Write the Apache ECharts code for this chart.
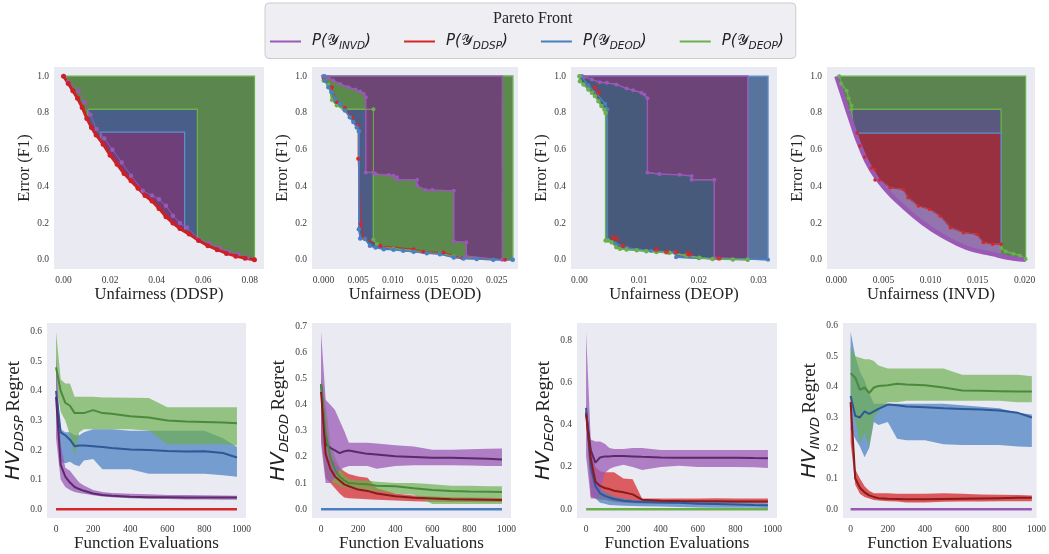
<!DOCTYPE html>
<html>
<head>
<meta charset="utf-8">
<script src="https://cdn.jsdelivr.net/npm/echarts@6/dist/echarts.min.js"></script>
<style>
  html, body { margin: 0; background: #fff; }
  #chart { width: 1049px; height: 554px; }
</style>
</head>
<body>
<div id="chart"></div>
<script>
// ---------- tick labels ----------
const topYTicks = [0, 0.2, 0.4, 0.6, 0.8, 1.0];
const ddspXTicks = [0, 0.02, 0.04, 0.06, 0.08];
const deodXTicks = [0, 0.005, 0.01, 0.015, 0.02, 0.025];
const deopXTicks = [0, 0.01, 0.02, 0.03];
const invdXTicks = [0, 0.005, 0.01, 0.015, 0.02];
const evalTicks = [0, 200, 400, 600, 800, 1000];
const ddspRegretTicks = [0, 0.1, 0.2, 0.3, 0.4, 0.5, 0.6];
const deodRegretTicks = [0, 0.1, 0.2, 0.3, 0.4, 0.5, 0.6, 0.7];
const deopRegretTicks = [0, 0.2, 0.4, 0.6, 0.8];
const invdRegretTicks = [0, 0.1, 0.2, 0.3, 0.4, 0.5, 0.6];

// ---------- Pareto fronts : DDSP ----------
const ddspRedFront = [[0.000,1.0],[0.002,0.96],[0.004,0.92],[0.006,0.88],[0.008,0.83],[0.010,0.77],[0.012,0.72],[0.014,0.68],[0.017,0.63],[0.020,0.57],[0.023,0.52],[0.026,0.47],[0.029,0.43],[0.032,0.39],[0.035,0.35],[0.038,0.32],[0.041,0.28],[0.044,0.235],[0.047,0.2],[0.050,0.17],[0.054,0.14],[0.058,0.105],[0.062,0.077],[0.066,0.055],[0.070,0.035],[0.074,0.02],[0.078,0.008],[0.082,0.0]];
const ddspPurpleFront = [[0.002,0.97],[0.0064,0.92],[0.009,0.86],[0.0115,0.79],[0.0142,0.713],[0.0175,0.66],[0.021,0.6],[0.025,0.53],[0.029,0.458],[0.034,0.376],[0.038,0.35],[0.041,0.33],[0.044,0.295],[0.047,0.24],[0.050,0.2],[0.053,0.176],[0.058,0.113],[0.0626,0.09],[0.067,0.067],[0.071,0.044],[0.075,0.03],[0.079,0.012]];
const ddspGreenArea = [[0.001,1.0],[0.082,1.0],[0.082,0.0],[0.078,0.008],[0.074,0.02],[0.070,0.035],[0.066,0.055],[0.062,0.077],[0.058,0.105],[0.054,0.14],[0.050,0.17],[0.047,0.2],[0.044,0.235],[0.041,0.28],[0.038,0.32],[0.035,0.35],[0.032,0.39],[0.029,0.43],[0.026,0.47],[0.023,0.52],[0.020,0.57],[0.017,0.63],[0.014,0.68],[0.012,0.72],[0.010,0.77],[0.008,0.83],[0.006,0.88],[0.004,0.92],[0.002,0.96]];
const ddspSlateArea = [[0.0105,0.82],[0.0575,0.82],[0.0575,0.11],[0.054,0.14],[0.050,0.17],[0.047,0.2],[0.044,0.235],[0.041,0.28],[0.038,0.32],[0.035,0.35],[0.032,0.39],[0.029,0.43],[0.026,0.47],[0.023,0.52],[0.020,0.57],[0.017,0.63],[0.014,0.68],[0.012,0.72],[0.0105,0.76]];
const ddspPurpleArea = [[0.016,0.695],[0.052,0.695],[0.052,0.16],[0.050,0.17],[0.047,0.2],[0.044,0.235],[0.041,0.28],[0.038,0.32],[0.035,0.35],[0.032,0.39],[0.029,0.43],[0.026,0.47],[0.023,0.52],[0.020,0.57],[0.017,0.63],[0.016,0.65]];

// ---------- Pareto fronts : DEOD ----------
const deodBlueFront = [[0.0,1.0],[0.0002,0.976],[0.0007,0.94],[0.0012,0.913],[0.0017,0.876],[0.0024,0.85],[0.0031,0.813],[0.0038,0.776],[0.0043,0.75],[0.0048,0.72],[0.0051,0.7],[0.0051,0.167],[0.0053,0.116],[0.006,0.113],[0.0067,0.076],[0.0075,0.067],[0.0087,0.058],[0.0101,0.055],[0.0115,0.049],[0.013,0.044],[0.0149,0.036],[0.0168,0.031],[0.0188,0.013],[0.0202,0.007],[0.0221,0.004],[0.0245,0.0],[0.0273,0.0]];
const deodBlueCorners = [[0.0273,1.0]];
const deodGreenFront = [[0.0,0.975],[0.0007,0.955],[0.0012,0.87],[0.0019,0.84],[0.0029,0.82],[0.0072,0.82],[0.0072,0.11],[0.0077,0.085],[0.0101,0.06],[0.013,0.05],[0.0168,0.035],[0.0188,0.02],[0.0221,0.006],[0.0273,0.0]];
const deodGreenCorners = [[0.0273,1.0],[0.0,1.0]];
const deodPurpleFront = [[0.0002,1.0],[0.0007,0.995],[0.0014,0.976],[0.0024,0.958],[0.0036,0.94],[0.0046,0.927],[0.0053,0.916],[0.0058,0.904],[0.0061,0.885],[0.0061,0.476],[0.0072,0.476],[0.0075,0.467],[0.0094,0.462],[0.0101,0.458],[0.0106,0.449],[0.0106,0.436],[0.0135,0.436],[0.0135,0.404],[0.0147,0.38],[0.0157,0.38],[0.0188,0.376],[0.0188,0.1],[0.0206,0.095],[0.0206,0.02],[0.0258,0.0]];
const deodPurpleCorners = [[0.0258,1.0]];
const deodRedFront = [[0.0,0.99],[0.0012,0.94],[0.0019,0.86],[0.0031,0.827],[0.0041,0.776],[0.005,0.73],[0.005,0.55],[0.0054,0.195],[0.0058,0.12],[0.0082,0.076],[0.013,0.058],[0.0144,0.044],[0.0173,0.04],[0.02,0.01],[0.0262,0.0]];

// ---------- Pareto fronts : DEOP ----------
const deopBlueFront = [[0.0003,1.0],[0.0015,0.95],[0.003,0.9],[0.0043,0.85],[0.0047,0.82],[0.0047,0.11],[0.006,0.09],[0.008,0.065],[0.012,0.05],[0.016,0.04],[0.0162,0.014],[0.02,0.008],[0.0282,0.004],[0.0316,0.0]];
const deopBlueCorners = [[0.0316,1.0]];
const deopGreenFront = [[0.0,1.0],[0.0001,0.973],[0.0007,0.955],[0.0015,0.928],[0.0021,0.91],[0.0026,0.892],[0.0032,0.864],[0.0037,0.837],[0.0042,0.819],[0.0044,0.8],[0.0044,0.105],[0.0048,0.105],[0.0054,0.096],[0.0062,0.069],[0.0068,0.06],[0.0079,0.056],[0.0096,0.052],[0.0112,0.047],[0.0129,0.042],[0.0151,0.038],[0.0179,0.024],[0.0201,0.011],[0.0223,0.005],[0.0257,0.002],[0.0282,0.0]];
const deopGreenCorners = [[0.0282,1.0]];
const deopPurpleFront = [[0.0005,1.0],[0.0009,0.996],[0.0021,0.982],[0.0034,0.967],[0.0046,0.964],[0.0062,0.955],[0.0079,0.933],[0.009,0.924],[0.0104,0.91],[0.0109,0.9],[0.0114,0.88],[0.0114,0.476],[0.0134,0.467],[0.0168,0.463],[0.0188,0.457],[0.0188,0.436],[0.0226,0.436],[0.0226,0.01],[0.0282,0.005]];
const deopPurpleCorners = [[0.0282,1.0]];
const deopRedDots = [[0.0026,0.937],[0.0032,0.91],[0.0057,0.12],[0.0062,0.114],[0.0073,0.078],[0.0129,0.056],[0.0146,0.042],[0.0162,0.042],[0.0182,0.033],[0.0185,0.03],[0.0234,0.009]];

// ---------- Pareto fronts : INVD ----------
const invdPurpleFront = [[0.0,1.0],[0.0007,0.89],[0.0016,0.75],[0.0025,0.62],[0.0037,0.49],[0.0053,0.38],[0.0071,0.29],[0.0092,0.2],[0.0113,0.13],[0.0138,0.067],[0.0166,0.031],[0.0188,0.007],[0.0201,0.0]];
const invdGreenArea = [[0.0003,1.0],[0.0201,1.0],[0.0201,0.0],[0.0188,0.007],[0.0166,0.031],[0.0138,0.067],[0.0113,0.13],[0.0092,0.2],[0.0071,0.29],[0.0053,0.38],[0.0037,0.49],[0.0025,0.62],[0.0016,0.75],[0.0007,0.89]];
const invdSlateArea = [[0.0016,0.82],[0.0175,0.82],[0.0175,0.06],[0.0138,0.067],[0.0113,0.13],[0.0092,0.2],[0.0071,0.29],[0.0053,0.38],[0.0037,0.49],[0.0025,0.62],[0.0018,0.72]];
const invdLightArea = [[0.0022,0.69],[0.0175,0.69],[0.0175,0.025],[0.0166,0.031],[0.0138,0.067],[0.0113,0.13],[0.0092,0.2],[0.0071,0.29],[0.0053,0.38],[0.0037,0.49],[0.0025,0.62]];
const invdRedFront = [[0.0022,0.69],[0.0025,0.62],[0.003,0.56],[0.0037,0.5],[0.0041,0.49],[0.0041,0.434],[0.0046,0.434],[0.0057,0.392],[0.0071,0.383],[0.0076,0.338],[0.0087,0.293],[0.0099,0.275],[0.011,0.239],[0.0121,0.175],[0.0135,0.148],[0.0149,0.139],[0.0156,0.094],[0.0166,0.085],[0.0175,0.085]];
const invdRedCorners = [[0.0175,0.69]];
const invdGreenTop = [[0.0003,1.0],[0.0005,0.96],[0.0011,0.92],[0.0013,0.88],[0.0016,0.84],[0.0016,0.82]];
const invdGreenBottom = [[0.0175,0.065],[0.018,0.045],[0.0188,0.033],[0.0195,0.024],[0.0201,0.005]];

// ---------- HV regret (bottom row) ----------
const evalX = [0, 25, 50, 75, 100, 125, 150, 200, 250, 300, 400, 500, 600, 700, 800, 900, 975];
const zeroRegret = [0, 0, 0, 0, 0, 0, 0, 0, 0, 0, 0, 0, 0, 0, 0, 0, 0];

const ddspGreenMean = [0.48,0.40,0.36,0.35,0.325,0.325,0.325,0.335,0.325,0.323,0.314,0.31,0.30,0.297,0.295,0.293,0.291];
const ddspGreenHi = [0.60,0.44,0.425,0.425,0.38,0.38,0.38,0.38,0.378,0.378,0.377,0.376,0.345,0.345,0.345,0.345,0.345];
const ddspGreenLo = [0.42,0.33,0.30,0.25,0.18,0.26,0.27,0.27,0.27,0.27,0.27,0.265,0.22,0.22,0.22,0.22,0.215];
const ddspBlueMean = [0.40,0.26,0.25,0.235,0.213,0.215,0.215,0.213,0.21,0.207,0.202,0.2,0.197,0.195,0.196,0.19,0.175];
const ddspBlueHi = [0.41,0.27,0.26,0.26,0.25,0.25,0.26,0.27,0.27,0.27,0.265,0.265,0.265,0.265,0.265,0.24,0.21];
const ddspBlueLo = [0.36,0.16,0.155,0.16,0.15,0.145,0.165,0.17,0.135,0.135,0.135,0.12,0.12,0.12,0.12,0.115,0.11];
const ddspPurpleMean = [0.38,0.15,0.11,0.09,0.075,0.068,0.062,0.053,0.048,0.045,0.042,0.04,0.04,0.039,0.039,0.039,0.039];
const ddspPurpleHi = [0.52,0.22,0.14,0.13,0.11,0.09,0.08,0.065,0.058,0.055,0.052,0.05,0.048,0.048,0.047,0.046,0.045];
const ddspPurpleLo = [0.24,0.10,0.075,0.065,0.058,0.055,0.052,0.047,0.043,0.04,0.037,0.035,0.034,0.033,0.033,0.032,0.032];

const deodPurpleMean = [0.48,0.25,0.235,0.225,0.215,0.222,0.225,0.218,0.212,0.21,0.203,0.2,0.197,0.197,0.195,0.193,0.19];
const deodPurpleHi = [0.68,0.42,0.40,0.38,0.34,0.30,0.255,0.255,0.255,0.252,0.245,0.24,0.228,0.228,0.23,0.232,0.233];
const deodPurpleLo = [0.25,0.10,0.10,0.12,0.15,0.16,0.165,0.165,0.165,0.155,0.165,0.168,0.168,0.168,0.167,0.165,0.165];
const deodRedMean = [0.45,0.21,0.155,0.125,0.11,0.095,0.088,0.075,0.07,0.06,0.049,0.044,0.041,0.038,0.037,0.036,0.035];
const deodRedHi = [0.5,0.23,0.2,0.18,0.16,0.145,0.135,0.125,0.12,0.08,0.06,0.052,0.048,0.046,0.045,0.044,0.043];
const deodRedLo = [0.28,0.12,0.1,0.08,0.06,0.045,0.042,0.04,0.038,0.036,0.033,0.03,0.028,0.027,0.027,0.026,0.026];
const deodGreenMean = [0.48,0.29,0.2,0.15,0.125,0.11,0.1,0.097,0.095,0.09,0.088,0.08,0.073,0.07,0.068,0.067,0.066];
const deodGreenHi = [0.51,0.4,0.25,0.2,0.16,0.13,0.115,0.11,0.11,0.105,0.1,0.1,0.095,0.09,0.09,0.088,0.088];
const deodGreenLo = [0.45,0.13,0.11,0.1,0.09,0.085,0.08,0.075,0.07,0.07,0.06,0.055,0.02,0.02,0.02,0.02,0.02];

const deopPurpleMean = [0.46,0.28,0.22,0.245,0.25,0.25,0.252,0.252,0.25,0.248,0.245,0.244,0.243,0.244,0.244,0.242,0.241];
const deopPurpleHi = [0.84,0.33,0.32,0.32,0.31,0.29,0.285,0.285,0.29,0.29,0.28,0.28,0.28,0.28,0.28,0.28,0.28];
const deopPurpleLo = [0.25,0.05,0.05,0.08,0.17,0.19,0.2,0.21,0.2,0.185,0.2,0.205,0.2,0.2,0.2,0.198,0.195];
const deopRedMean = [0.45,0.24,0.13,0.11,0.1,0.095,0.087,0.08,0.07,0.045,0.04,0.038,0.037,0.037,0.036,0.036,0.036];
const deopRedHi = [0.48,0.30,0.20,0.18,0.175,0.175,0.175,0.145,0.142,0.05,0.05,0.05,0.05,0.052,0.05,0.05,0.05];
const deopRedLo = [0.44,0.06,0.05,0.045,0.045,0.04,0.035,0.03,0.028,0.027,0.027,0.027,0.028,0.028,0.028,0.028,0.028];
const deopBlueMean = [0.48,0.2,0.11,0.075,0.063,0.055,0.048,0.04,0.036,0.034,0.032,0.03,0.026,0.024,0.022,0.02,0.019];
const deopBlueHi = [0.5,0.3,0.15,0.1,0.08,0.07,0.06,0.05,0.045,0.04,0.04,0.045,0.04,0.035,0.032,0.03,0.028];
const deopBlueLo = [0.45,0.1,0.05,0.03,0.025,0.02,0.018,0.016,0.015,0.014,0.012,0.01,0.008,0.007,0.006,0.006,0.005];

const invdGreenMean = [0.445,0.43,0.39,0.398,0.38,0.398,0.403,0.405,0.41,0.408,0.405,0.398,0.388,0.387,0.386,0.385,0.385];
const invdGreenHi = [0.53,0.5,0.495,0.49,0.49,0.485,0.47,0.46,0.46,0.46,0.46,0.46,0.44,0.44,0.44,0.44,0.435];
const invdGreenLo = [0.37,0.29,0.215,0.25,0.205,0.3,0.32,0.35,0.35,0.355,0.355,0.355,0.355,0.355,0.355,0.35,0.35];
const invdBlueMean = [0.37,0.305,0.3,0.32,0.312,0.32,0.328,0.342,0.34,0.336,0.333,0.33,0.328,0.326,0.323,0.315,0.3];
const invdBlueHi = [0.58,0.5,0.45,0.42,0.38,0.345,0.345,0.345,0.345,0.345,0.345,0.345,0.34,0.335,0.33,0.315,0.31];
const invdBlueLo = [0.26,0.23,0.205,0.17,0.2,0.285,0.275,0.285,0.23,0.225,0.225,0.212,0.21,0.21,0.21,0.205,0.203];
const invdRedMean = [0.35,0.1,0.07,0.055,0.045,0.04,0.036,0.034,0.033,0.032,0.032,0.033,0.034,0.035,0.036,0.037,0.037];
const invdRedHi = [0.36,0.13,0.1,0.075,0.06,0.052,0.052,0.052,0.05,0.05,0.05,0.052,0.05,0.048,0.047,0.046,0.045];
const invdRedLo = [0.22,0.08,0.05,0.04,0.035,0.03,0.028,0.026,0.025,0.022,0.022,0.024,0.025,0.025,0.026,0.026,0.026];

// ---------- styling ----------
const SERIF = '"Liberation Serif", "Times New Roman", serif';
const SANS = '"DejaVu Sans", sans-serif';
const PURPLE = '#9b59b6', RED = '#d62728', BLUE = '#4a7fc1', GREEN = '#6ab04c';
const EDGE_BLUE = '#5b8fd0';

const grids = [
  { left: 54, top: 67, width: 210, height: 202 },
  { left: 312, top: 67, width: 206, height: 202 },
  { left: 571, top: 67, width: 206, height: 202 },
  { left: 827, top: 67, width: 208, height: 202 },
  { left: 47, top: 323, width: 199, height: 195 },
  { left: 312, top: 323, width: 199, height: 195 },
  { left: 577, top: 323, width: 200, height: 195 },
  { left: 843, top: 323, width: 195, height: 195 }
];

function xAxisCfg(idx, min, max, ticks, dec, name, gap) {
  return {
    type: 'value', gridIndex: idx, min: min, max: max,
    name: name, nameLocation: 'middle', nameGap: gap,
    nameTextStyle: { fontFamily: SERIF, fontSize: idx < 4 ? 16.5 : 17, color: '#222' },
    axisLine: { show: false }, axisTick: { show: false }, splitLine: { show: false },
    axisLabel: { customValues: ticks, formatter: v => v.toFixed(dec), fontFamily: SERIF, fontSize: 9.5, color: '#3a3a3a', margin: 6 }
  };
}

function yAxisCfg(idx, min, max, ticks, name, rich) {
  return {
    type: 'value', gridIndex: idx, min: min, max: max,
    name: name, nameLocation: 'middle', nameGap: rich ? 16 : 14, nameRotate: 90,
    nameTextStyle: rich ? { rich: rich } : { fontFamily: SERIF, fontSize: 16.5, color: '#222' },
    axisLine: { show: false }, axisTick: { show: false }, splitLine: { show: false },
    axisLabel: { customValues: ticks, formatter: v => v.toFixed(1), fontFamily: SERIF, fontSize: 9.5, color: '#3a3a3a', margin: 5 }
  };
}

const hvRich = {
  hv: { fontFamily: SANS, fontStyle: 'italic', fontSize: 20, lineHeight: 24, color: '#222' },
  sub: { fontFamily: SANS, fontStyle: 'italic', fontSize: 13, verticalAlign: 'bottom', color: '#222' },
  r: { fontFamily: SERIF, fontSize: 19, color: '#222' }
};

function areaSeries(ax, pts, fill, stroke) {
  return {
    type: 'custom', xAxisIndex: ax, yAxisIndex: ax, data: [pts[0]], silent: true, z: 1,
    renderItem: (params, api) => ({
      type: 'polygon',
      shape: { points: pts.map(p => api.coord(p)) },
      style: { fill: fill, stroke: stroke || 'none', lineWidth: 1.3 }
    })
  };
}

function frontSeries(ax, pts, color, size, width, name) {
  return {
    type: 'line', name: name, xAxisIndex: ax, yAxisIndex: ax, data: pts, z: 5, silent: true,
    symbol: 'circle', symbolSize: size, showSymbol: size > 0,
    lineStyle: { color: color, width: width }, itemStyle: { color: color }
  };
}

function dotSeries(ax, pts, color, size) {
  return { type: 'scatter', xAxisIndex: ax, yAxisIndex: ax, data: pts, z: 6, silent: true,
    symbolSize: size, itemStyle: { color: color } };
}

function bandSeries(ax, lo, hi, color) {
  const pts = evalX.map((x, i) => [x, hi[i]]).concat(evalX.map((x, i) => [x, lo[i]]).reverse());
  return areaSeries(ax, pts, color, null);
}

function meanSeries(ax, ys, color, width, name) {
  return {
    type: 'line', name: name, xAxisIndex: ax, yAxisIndex: ax, z: 5, silent: true,
    data: evalX.map((x, i) => [x, ys[i]]), showSymbol: false,
    lineStyle: { color: color, width: width }, itemStyle: { color: color }
  };
}

const series = [
  // DDSP front
  areaSeries(0, ddspGreenArea, '#5b864d', GREEN),
  areaSeries(0, ddspSlateArea, '#4a5e8a', GREEN),
  areaSeries(0, ddspPurpleArea, '#6e3f78', EDGE_BLUE),
  frontSeries(0, ddspPurpleFront, PURPLE, 4.5, 1),
  frontSeries(0, ddspRedFront, '#cc1f26', 5, 3),
  // DEOD front
  areaSeries(1, deodBlueFront.concat(deodBlueCorners), '#4d5c85', EDGE_BLUE),
  areaSeries(1, deodGreenFront.concat(deodGreenCorners), '#5b8a4c', GREEN),
  areaSeries(1, deodPurpleFront.concat(deodPurpleCorners), '#6d4676', PURPLE),
  frontSeries(1, deodPurpleFront, PURPLE, 4, 1),
  frontSeries(1, deodGreenFront, GREEN, 4, 1),
  frontSeries(1, deodRedFront, RED, 4, 1),
  frontSeries(1, deodBlueFront, BLUE, 4.5, 1.5),
  // DEOP front
  areaSeries(2, deopBlueFront.concat(deopBlueCorners), '#56749e', EDGE_BLUE),
  areaSeries(2, deopGreenFront.concat(deopGreenCorners), '#485a7c', EDGE_BLUE),
  areaSeries(2, deopPurpleFront.concat(deopPurpleCorners), '#6c4478', PURPLE),
  frontSeries(2, deopPurpleFront, PURPLE, 4, 1),
  frontSeries(2, deopBlueFront, BLUE, 4, 1.5),
  dotSeries(2, deopRedDots, RED, 5),
  frontSeries(2, deopGreenFront, GREEN, 4.5, 1.5),
  // INVD front
  areaSeries(3, invdGreenArea, '#5b8450', GREEN),
  areaSeries(3, invdSlateArea, '#5a587e', GREEN),
  areaSeries(3, invdLightArea, '#9474ad', null),
  areaSeries(3, invdRedFront.concat(invdRedCorners), '#98303f', EDGE_BLUE),
  frontSeries(3, invdGreenTop, GREEN, 4, 1.5),
  frontSeries(3, invdGreenBottom, GREEN, 4, 1.5),
  frontSeries(3, invdRedFront, RED, 3.5, 1),
  Object.assign(frontSeries(3, invdPurpleFront, PURPLE, 0, 4.5), { smooth: true }),
  // DDSP regret
  bandSeries(4, ddspBlueLo, ddspBlueHi, 'rgba(74,127,193,0.72)'),
  bandSeries(4, ddspGreenLo, ddspGreenHi, 'rgba(106,176,76,0.68)'),
  bandSeries(4, ddspPurpleLo, ddspPurpleHi, 'rgba(155,89,182,0.75)'),
  meanSeries(4, ddspGreenMean, '#4a8a3c', 2),
  meanSeries(4, ddspBlueMean, '#2e5896', 2),
  meanSeries(4, ddspPurpleMean, '#5a2a6a', 2),
  meanSeries(4, zeroRegret, RED, 2.5, 'DDSP'),
  // DEOD regret
  bandSeries(5, deodRedLo, deodRedHi, 'rgba(214,39,40,0.72)'),
  bandSeries(5, deodGreenLo, deodGreenHi, 'rgba(106,176,76,0.68)'),
  bandSeries(5, deodPurpleLo, deodPurpleHi, 'rgba(155,89,182,0.75)'),
  meanSeries(5, deodPurpleMean, '#5a2a6a', 2),
  meanSeries(5, deodGreenMean, '#4a8a3c', 2),
  meanSeries(5, deodRedMean, '#8b1a1a', 2),
  meanSeries(5, zeroRegret, BLUE, 2.5, 'DEOD'),
  // DEOP regret
  bandSeries(6, deopRedLo, deopRedHi, 'rgba(214,39,40,0.72)'),
  bandSeries(6, deopBlueLo, deopBlueHi, 'rgba(74,127,193,0.72)'),
  bandSeries(6, deopPurpleLo, deopPurpleHi, 'rgba(155,89,182,0.75)'),
  meanSeries(6, deopPurpleMean, '#5a2a6a', 2),
  meanSeries(6, deopBlueMean, '#2e5896', 2),
  meanSeries(6, deopRedMean, '#8b1a1a', 2),
  meanSeries(6, zeroRegret, GREEN, 2.5, 'DEOP'),
  // INVD regret
  bandSeries(7, invdBlueLo, invdBlueHi, 'rgba(74,127,193,0.72)'),
  bandSeries(7, invdGreenLo, invdGreenHi, 'rgba(106,176,76,0.68)'),
  bandSeries(7, invdRedLo, invdRedHi, 'rgba(214,39,40,0.75)'),
  meanSeries(7, invdGreenMean, '#4a8a3c', 2),
  meanSeries(7, invdBlueMean, '#2e5896', 2),
  meanSeries(7, invdRedMean, '#8b1a1a', 2),
  meanSeries(7, zeroRegret, PURPLE, 2.5, 'INVD')
];

const chart = echarts.init(document.getElementById('chart'), null, { renderer: 'canvas' });
chart.setOption({
  animation: false,
  backgroundColor: '#ffffff',
  title: {
    text: 'Pareto Front', left: 488, top: 6,
    textStyle: { fontFamily: SERIF, fontSize: 16, fontWeight: 'normal', color: '#262626' }
  },
  legend: {
    left: 265, top: 3, padding: [31, 12, 7, 5], itemGap: 33,
    itemWidth: 31, itemHeight: 2, icon: 'rect', selectedMode: false,
    backgroundColor: '#eeeef3', borderColor: '#cccccc', borderWidth: 1, borderRadius: 4,
    data: [
      { name: 'INVD', itemStyle: { color: PURPLE } },
      { name: 'DDSP', itemStyle: { color: RED } },
      { name: 'DEOD', itemStyle: { color: BLUE } },
      { name: 'DEOP', itemStyle: { color: GREEN } }
    ],
    formatter: name => '{p|P(}{y|\uD835\uDCB4}{s|' + name + '}{p|)}',
    textStyle: {
      padding: [0, 0, 0, 6],
      rich: {
        p: { fontFamily: SANS, fontStyle: 'italic', fontSize: 15, lineHeight: 20, color: '#222' },
        y: { fontFamily: SANS, fontSize: 15, lineHeight: 20, color: '#222' },
        s: { fontFamily: SANS, fontStyle: 'italic', fontSize: 10.5, verticalAlign: 'bottom', color: '#222' }
      }
    }
  },
  grid: grids.map(g => Object.assign({ show: true, backgroundColor: '#eaeaf2', borderWidth: 0 }, g)),
  xAxis: [
    xAxisCfg(0, -0.0041, 0.0861, ddspXTicks, 2, 'Unfairness (DDSP)', 16),
    xAxisCfg(1, -0.00166, 0.02807, deodXTicks, 3, 'Unfairness (DEOD)', 16),
    xAxisCfg(2, -0.0014, 0.0331, deopXTicks, 2, 'Unfairness (DEOP)', 16),
    xAxisCfg(3, -0.001, 0.0211, invdXTicks, 3, 'Unfairness (INVD)', 16),
    xAxisCfg(4, -48.75, 1023.75, evalTicks, 0, 'Function Evaluations', 15),
    xAxisCfg(5, -48.75, 1023.75, evalTicks, 0, 'Function Evaluations', 15),
    xAxisCfg(6, -48.75, 1023.75, evalTicks, 0, 'Function Evaluations', 15),
    xAxisCfg(7, -41, 1000, evalTicks, 0, 'Function Evaluations', 15)
  ],
  yAxis: [
    yAxisCfg(0, -0.05, 1.05, topYTicks, 'Error (F1)'),
    yAxisCfg(1, -0.05, 1.05, topYTicks, 'Error (F1)'),
    yAxisCfg(2, -0.05, 1.05, topYTicks, 'Error (F1)'),
    yAxisCfg(3, -0.05, 1.05, topYTicks, 'Error (F1)'),
    yAxisCfg(4, -0.03, 0.63, ddspRegretTicks, '{hv|HV}{sub|DDSP} {r|Regret}', hvRich),
    yAxisCfg(5, -0.034, 0.714, deodRegretTicks, '{hv|HV}{sub|DEOD} {r|Regret}', hvRich),
    yAxisCfg(6, -0.042, 0.882, deopRegretTicks, '{hv|HV}{sub|DEOP} {r|Regret}', hvRich),
    yAxisCfg(7, -0.029, 0.609, invdRegretTicks, '{hv|HV}{sub|INVD} {r|Regret}', hvRich)
  ],
  series: series
});
</script>
</body>
</html>
